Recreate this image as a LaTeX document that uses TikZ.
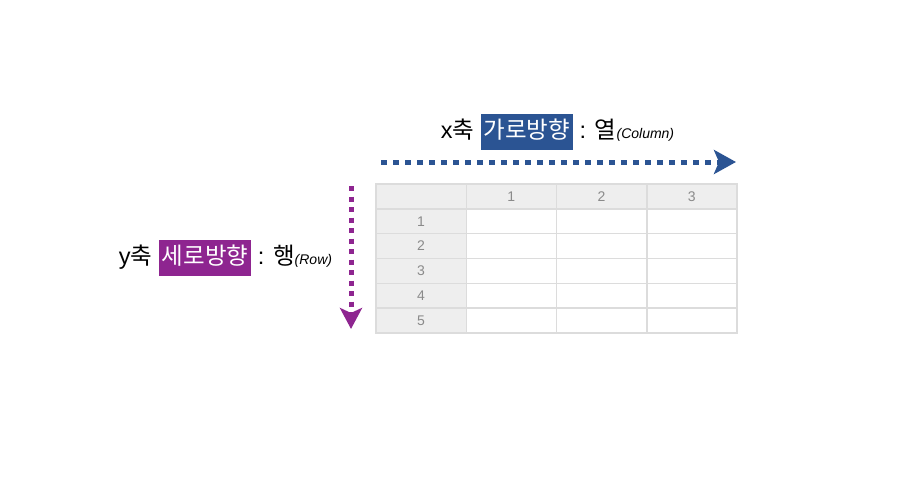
\documentclass[tikz,border=0pt]{standalone}
\usepackage{fontspec}
\setmainfont{Liberation Sans}
\newfontfamily\kr{Noto Sans CJK KR}
\usetikzlibrary{arrows.meta}
\definecolor{xblue}{HTML}{2B5493}
\definecolor{ypurple}{HTML}{8E2590}
\definecolor{gridline}{HTML}{DCDCDC}
\definecolor{headfill}{HTML}{EEEEEE}
\definecolor{numgray}{HTML}{8A8A8A}
\newcommand{\hlbox}[2]{{\setlength\fboxsep{3pt}\colorbox{#1}{\color{white}\kr\strut #2}}}
\tikzset{
  cell/.style={draw=gridline, line width=1.5pt, minimum width=90.25pt, minimum height=24.83pt, inner sep=0pt},
  num/.style={text=numgray, font=\fontsize{14}{16}\selectfont},
  label/.style={inner sep=0pt, font=\fontsize{23.5}{30}\selectfont},
  dotarrow/.style={line width=5pt}
}
\begin{document}
\begin{tikzpicture}[x=1pt,y=-1pt]
\useasboundingbox[fill=white] (0,0) rectangle (900,479);
% table
\foreach \r in {0,...,5}{
  \foreach \c in {0,...,3}{
    \pgfmathsetmacro{\cx}{376+90.25*\c+45.125}
    \pgfmathsetmacro{\cy}{184+24.83*\r+12.415}
    \ifnum\r=0 \def\fc{headfill}\else\ifnum\c=0 \def\fc{headfill}\else\def\fc{white}\fi\fi
    \node[cell, fill=\fc] (c-\r-\c) at (\cx,\cy) {};
  }
}
\foreach \c in {1,2,3}{ \node[num] at (c-0-\c) {\c}; }
\foreach \r in {1,...,5}{ \node[num] at (c-\r-0) {\r}; }
% x arrow
\coordinate (xs) at (381,162);
\coordinate (xe) at (736,162);
\draw[dotarrow, draw=xblue, dash pattern=on 5.5pt off 6.5pt, -{Stealth[length=22pt,width=24pt,inset=5pt,fill=xblue]}] (xs) -- (xe);
% y arrow
\coordinate (ys) at (351,186);
\coordinate (ye) at (351,329);
\draw[dotarrow, draw=ypurple, dash pattern=on 5pt off 5.5pt, -{Stealth[length=21pt,width=22pt,inset=5pt,fill=ypurple]}] (ys) -- (ye);
% labels
\node[label, anchor=center] (xlab) at (557.5,132) {x{\kr 축} \hlbox{xblue}{가로방향} : {\kr 열}{\fontsize{14}{16}\selectfont\itshape (Column)}};
\node[label, anchor=center] (ylab) at (225.5,258) {y{\kr 축} \hlbox{ypurple}{세로방향} : {\kr 행}{\fontsize{14}{16}\selectfont\itshape (Row)}};
\end{tikzpicture}
\end{document}
